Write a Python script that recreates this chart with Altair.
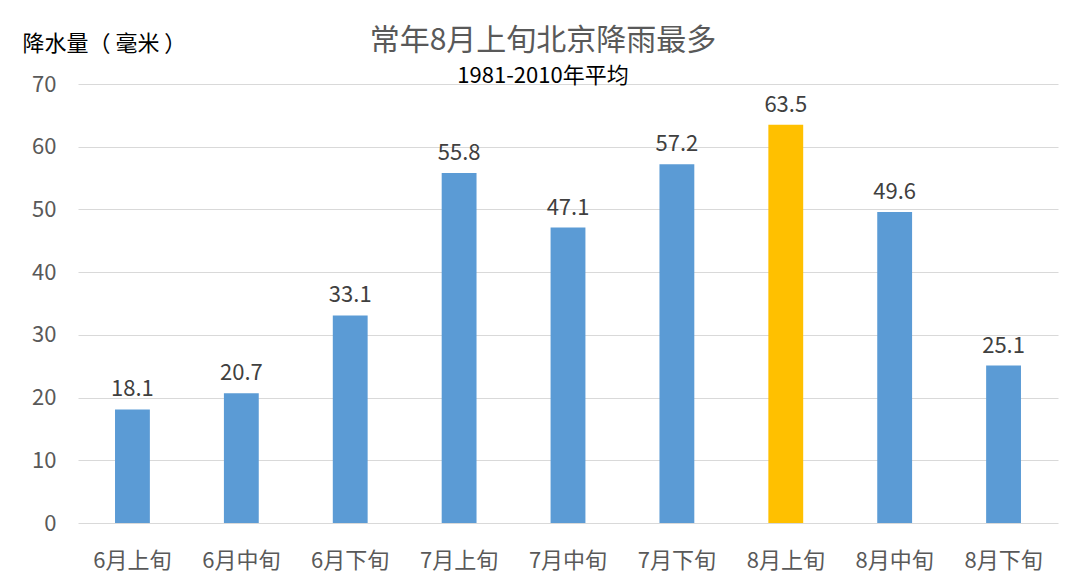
import altair as alt
import pandas as pd

categories = ["6月上旬", "6月中旬", "6月下旬", "7月上旬", "7月中旬", "7月下旬", "8月上旬", "8月中旬", "8月下旬"]
values = [18.1, 20.7, 33.1, 55.8, 47.1, 57.2, 63.5, 49.6, 25.1]
highlight = [False, False, False, False, False, False, True, False, False]

df = pd.DataFrame({"cat": categories, "val": values, "hl": highlight})
FONT = "Noto Sans CJK SC"

x = alt.X("cat:N", sort=categories, title=None,
          scale=alt.Scale(paddingInner=0.68, paddingOuter=0.34),
          axis=alt.Axis(labelAngle=0, domain=False, ticks=False, grid=False, labelFontSize=22,
                        labelColor="#595959", labelPadding=27, labelFont=FONT))
y = alt.Y("val:Q", scale=alt.Scale(domain=[0, 70]),
          axis=alt.Axis(values=[0, 10, 20, 30, 40, 50, 60, 70], domain=False, ticks=False,
                        gridColor="#D9D9D9", labelFontSize=22, labelColor="#595959",
                        labelPadding=22, labelFont=FONT,
                        title="降水量（ 毫米 ）", titleAngle=0, titleAlign="left",
                        titleBaseline="middle", titleX=-56, titleY=-41,
                        titleFontSize=22, titleFontWeight="normal", titleColor="#000000",
                        titleFont=FONT))

bars = alt.Chart(df).mark_bar().encode(
    x=x, y=y,
    color=alt.Color("hl:N", scale=alt.Scale(domain=[False, True], range=["#5B9BD5", "#FFC000"]), legend=None),
)
labels = alt.Chart(df).mark_text(baseline="bottom", dy=-8, fontSize=22, color="#404040", font=FONT).encode(
    x=alt.X("cat:N", sort=categories), y="val:Q", text=alt.Text("val:Q", format=".1f"))

chart = (bars + labels).properties(
    width=980, height=439,
    title=alt.TitleParams("常年8月上旬北京降雨最多", subtitle="1981-2010年平均",
                          anchor="middle", dx=-25, fontSize=30, fontWeight="normal",
                          color="#595959", font=FONT, subtitleFont=FONT, subtitleFontSize=22,
                          subtitleColor="#000000", subtitlePadding=10, offset=-55),
    autosize=alt.AutoSizeParams(type="none"),
    padding={"left": 78, "top": 84, "right": 22, "bottom": 50},
    background="white",
).configure_view(stroke="transparent", strokeWidth=0)

chart.save("out.html", embed_options={"renderer": "svg", "actions": False})
